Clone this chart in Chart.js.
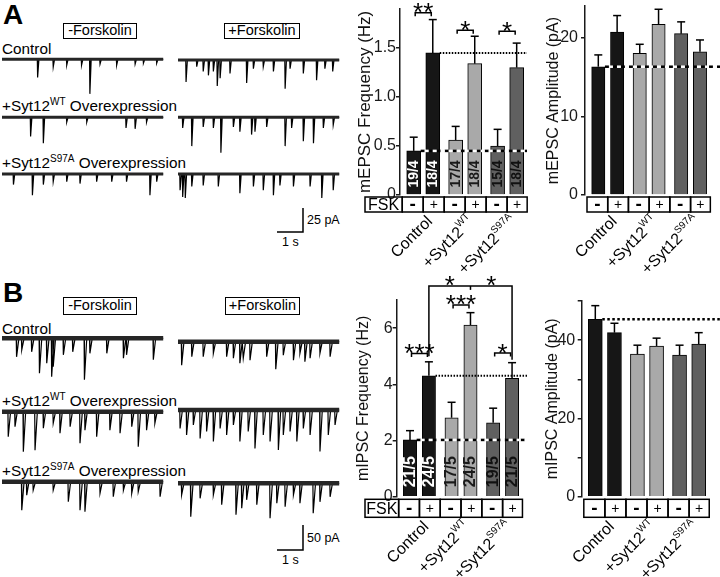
<!DOCTYPE html>
<html>
<head>
<meta charset="utf-8">
<script src="https://cdn.jsdelivr.net/npm/chart.js@4.4.1/dist/chart.umd.min.js"></script>
<style>
  body { margin: 0; background: #fff; width: 720px; height: 577px; position: relative; overflow: hidden;
         font-family: Arial, "Liberation Sans", sans-serif; color: #000; }
  canvas { position: absolute; }
  .lbl { position: absolute; font-size: 15.3px; line-height: 16px; white-space: nowrap; }
  .lbl sup { font-size: 10px; vertical-align: 6px; line-height: 0; }
  .box { position: absolute; border: 1.5px solid #000; box-sizing: border-box; font-size: 14.5px; text-align: center; white-space: nowrap; }
  .letter { position: absolute; font-size: 28px; line-height: 28px; font-weight: bold; }
  .small { position: absolute; font-size: 12.5px; line-height: 13px; white-space: nowrap; }
</style>
</head>
<body>

<div class="letter" style="left:3px;top:1px">A</div>
<div class="box" style="left:63px;top:23px;width:74px;height:16px;line-height:13px">-Forskolin</div>
<div class="box" style="left:224px;top:23px;width:76px;height:16px;line-height:13px">+Forskolin</div>
<div class="lbl" style="left:2px;top:41px">Control</div>
<div class="lbl" style="left:2px;top:98px">+Syt12<sup>WT</sup> Overexpression</div>
<div class="lbl" style="left:2px;top:155px">+Syt12<sup>S97A</sup> Overexpression</div>
<div class="small" style="left:307px;top:214px">25 pA</div>
<div class="small" style="left:282px;top:236px">1 s</div>

<div class="letter" style="left:3px;top:279px">B</div>
<div class="box" style="left:63px;top:297px;width:74px;height:18px;line-height:15px">-Forskolin</div>
<div class="box" style="left:225px;top:297px;width:75px;height:18px;line-height:15px">+Forskolin</div>
<div class="lbl" style="left:2px;top:321px">Control</div>
<div class="lbl" style="left:2px;top:393px">+Syt12<sup>WT</sup> Overexpression</div>
<div class="lbl" style="left:2px;top:463px">+Syt12<sup>S97A</sup> Overexpression</div>
<div class="small" style="left:307px;top:532px">50 pA</div>
<div class="small" style="left:282px;top:554px">1 s</div>

<canvas id="traceA"></canvas>
<canvas id="traceB"></canvas>
<canvas id="freqA"></canvas>
<canvas id="ampA"></canvas>
<canvas id="freqB"></canvas>
<canvas id="ampB"></canvas>

<script>
// ---- data ----
const groupNames = ['Control', '+Syt12', '+Syt12'];
const groupSup = ['', 'WT', 'S97A'];
const fskSigns = ['-', '+', '-', '+', '-', '+'];

const mepscFreq = [0.45, 1.45, 0.56, 1.34, 0.50, 1.30];
const mepscFreqSem = [0.14, 0.34, 0.14, 0.28, 0.17, 0.25];
const mepscN = ['19/4', '18/4', '17/4', '18/4', '15/4', '18/4'];
const mepscFreqTicks = [0, 0.5, 1.0, 1.5];
const mepscFreqTickLabels = ['0', '0.5', '1.0', '1.5'];

const mepscAmp = [16.3, 20.7, 18.0, 21.7, 20.5, 18.2];
const mepscAmpSem = [1.5, 2.1, 1.15, 1.9, 1.5, 1.5];
const mepscAmpTicks = [0, 10, 20];
const mepscAmpTickLabels = ['0', '10', '20'];

const mipscFreq = [2.02, 4.30, 2.81, 6.11, 2.63, 4.21];
const mipscFreqSem = [0.33, 0.50, 0.55, 0.44, 0.52, 0.56];
const mipscN = ['21/5', '24/5', '17/5', '24/5', '19/5', '21/5'];
const mipscFreqTicks = [0, 2, 4, 6];
const mipscFreqTickLabels = ['0', '2', '4', '6'];

const mipscAmp = [45.3, 41.9, 36.4, 38.5, 36.2, 39.0];
const mipscAmpSem = [3.5, 2.4, 2.3, 2.0, 2.5, 2.9];
const mipscAmpTicks = [0, 10, 20, 30, 40, 50];
const mipscAmpTickLabels = ['0', '', '20', '', '40', ''];

// significance: [bar a, bar b, bracket height (axis units), stars]
const mepscFreqSig = [[0, 1, 1.86, '**'], [2, 3, 1.68, '*'], [4, 5, 1.67, '*']];
const mipscFreqSig = [[0, 1, 5.10, '***'], [2, 3, 6.82, '***'], [4, 5, 5.11, '*']];
const mipscFreqBig = { from: 1, mid: 3, to: 5, y: 7.5, leftEnd: 5.0, midEnd: 7.36, rightEnd: 4.87, stars: ['*', '*'] };

// example traces: events as [time (s), amplitude (pA)]
const aCtrlOff = [[1.37,19],[1.97,8],[2.49,6],[3.06,6],[3.38,36],[3.77,5],[4.41,6],[5.12,5],[5.44,4],[5.95,4]];
const aCtrlOn = [[0.31,23],[0.72,7],[0.97,12],[1.17,16],[1.36,12],[1.51,27],[1.62,19],[2.0,14],[2.64,24],[2.9,9],[3.28,7],[3.67,12],[4.12,30],[4.31,9],[4.82,14],[5.33,21],[5.65,9],[5.95,12]];
const aWtOff = [[1.10,20],[1.59,27],[2.49,5],[3.26,5],[4.77,11],[5.12,12],[5.56,5]];
const aWtOn = [[0.18,11],[0.53,30],[0.97,10],[1.36,11],[1.65,37],[2.13,10],[2.38,15],[2.83,18],[2.96,15],[3.41,10],[4.12,30],[4.37,11],[4.82,25],[5.21,27],[5.59,11],[5.97,8]];
const aMutOff = [[0.44,11],[1.17,22],[1.59,11],[1.97,8],[2.49,8],[3.0,10],[3.64,8],[4.22,8],[4.79,8],[5.69,22],[5.95,8]];
const aMutOn = [[0.08,17],[0.18,24],[0.28,25],[0.53,13],[0.97,12],[1.55,13],[2.38,20],[2.9,13],[3.28,17],[3.67,22],[3.92,12],[4.44,13],[5.08,13],[5.53,25],[5.97,17]];
const bCtrlOff = [[0.56,37],[0.76,23],[1.14,27],[1.44,70],[1.72,50],[1.91,77],[1.97,57],[2.36,33],[2.72,27],[3.17,83],[3.38,30],[4.03,30],[4.67,40],[4.79,33],[5.82,43]];
const bCtrlOn = [[0.14,47],[0.53,30],[0.97,30],[1.36,23],[1.87,30],[2.13,33],[2.38,43],[2.51,33],[2.77,37],[3.41,30],[3.76,55],[4.05,27],[4.44,37],[4.69,23],[4.88,40],[5.08,33],[5.46,23],[5.85,30]];
const bWtOff = [[0.24,50],[0.5,30],[0.82,80],[1.27,77],[1.59,33],[1.97,23],[2.23,43],[2.62,30],[3.0,63],[3.19,37],[3.64,50],[4.15,37],[4.54,43],[4.99,30],[5.24,70],[5.56,37],[5.88,23]];
const bWtOn = [[0.08,37],[0.33,50],[0.59,30],[0.85,57],[1.1,43],[1.36,63],[1.62,37],[1.87,50],[2.13,30],[2.38,63],[2.7,43],[2.96,77],[3.28,50],[3.54,63],[3.86,80],[4.05,50],[4.31,43],[4.57,63],[4.82,37],[5.08,50],[5.46,83],[5.78,50],[6.04,30]];
const bMutOff = [[0.76,57],[0.95,27],[1.2,17],[1.97,17],[2.55,40],[3.0,57],[3.19,60],[3.77,23],[4.28,30],[4.67,17],[4.99,23],[5.24,20],[6.08,30]];
const bMutOn = [[0.14,23],[0.49,67],[0.85,30],[1.36,23],[1.68,43],[2.23,63],[2.45,50],[2.64,33],[3.03,43],[3.54,70],[3.8,40],[4.12,47],[4.44,23],[4.69,40],[5.2,60],[5.46,37],[5.85,27]];
const scaleBarSec = 1;
const scaleBarA = 25;
const scaleBarB = 50;

// ---- layout / style ----
const FONT = 'Arial, "Liberation Sans", sans-serif';
const BAR_POS = [0, 1, 2.2, 3.2, 4.4, 5.4];
const BOX_EDGES = [-0.6, 0.5, 1.6, 2.7, 3.8, 4.9, 5.95];
const BAR_COLORS = ['#161616', '#161616', '#a9a9a9', '#a9a9a9', '#606060', '#606060'];
const N_COLORS = ['#fff', '#fff', '#1a1a1a', '#1a1a1a', '#111', '#111'];
const PX_PER_S = 26;
const TRACE_DUR = 6.2;
const FSK_LEFT = 365;

Chart.defaults.font.family = FONT;
Chart.defaults.color = '#000';

function place(cv, L) {
    cv.width = L.width; cv.height = L.height;
    cv.style.left = L.left + 'px'; cv.style.top = L.top + 'px';
    cv.style.width = L.width + 'px'; cv.style.height = L.height + 'px';
}

function traceChart(id, L, traces) {
    const cv = document.getElementById(id);
    place(cv, L);
    const k = L.pAperPx;
    const ds = [];
    traces.forEach(tr => {
        const x0 = tr.x0 / PX_PER_S, y0 = -tr.base * k;
        ds.push({ data: [{ x: x0, y: y0 }, { x: x0 + TRACE_DUR, y: y0 }], borderWidth: L.band, borderColor: '#262626' });
        const pts = [{ x: x0, y: y0 }];
        tr.events.forEach(([t, a]) => {
            pts.push({ x: x0 + t - 0.012, y: y0 }, { x: x0 + t, y: y0 - a }, { x: x0 + t + L.decay, y: y0 });
        });
        pts.push({ x: x0 + TRACE_DUR, y: y0 });
        ds.push({ data: pts, borderWidth: 1.2, borderColor: '#000' });
    });
    // scale bar
    const sx = L.barX / PX_PER_S, sy = -L.barY * k;
    ds.push({ data: [{ x: sx - scaleBarSec, y: sy }, { x: sx, y: sy }, { x: sx, y: sy + L.barPA }], borderWidth: 1.5, borderColor: '#000' });

    new Chart(cv, {
        type: 'scatter',
        data: { datasets: ds.map(d => Object.assign({ showLine: true, pointRadius: 0, fill: false, tension: 0 }, d)) },
        options: {
            responsive: false, animation: false,
            layout: { padding: 0 },
            plugins: { legend: { display: false }, tooltip: { enabled: false } },
            scales: {
                x: { type: 'linear', display: false, min: 0, max: L.width / PX_PER_S },
                y: { type: 'linear', display: false, min: -L.height * k, max: 0 }
            }
        }
    });
}

function strokeLine(ctx, pts) {
    ctx.beginPath();
    pts.forEach((p, i) => i ? ctx.lineTo(p[0], p[1]) : ctx.moveTo(p[0], p[1]));
    ctx.stroke();
}

function drawStars(ctx, txt, x, y, size) {
    ctx.font = size + 'px ' + FONT;
    ctx.textAlign = 'center';
    ctx.textBaseline = 'alphabetic';
    ctx.fillStyle = '#000';
    ctx.fillText(txt, x, y - 2 + 0.40 * size);
}

function makeOverlay(L, cfg) {
    return {
        id: 'overlay',
        afterDatasetsDraw(chart) {
            const ctx = chart.ctx, xs = chart.scales.x, ys = chart.scales.y;
            const X = v => xs.getPixelForValue(v), Y = v => ys.getPixelForValue(v);
            const half = L.barW / 2;
            ctx.save();
            // n labels inside bars
            (cfg.nLabels || []).forEach((t, i) => {
                ctx.save();
                ctx.translate(X(BAR_POS[i]) + 0.5, Y(0) - L.nOffset);
                ctx.rotate(-Math.PI / 2);
                ctx.font = 'bold ' + L.nSize + 'px ' + FONT;
                ctx.fillStyle = N_COLORS[i];
                ctx.textAlign = 'center'; ctx.textBaseline = 'middle';
                ctx.fillText(t, 0, 0);
                ctx.restore();
            });
            // error bars (upper SEM)
            ctx.strokeStyle = '#000'; ctx.lineWidth = 1.5;
            cfg.values.forEach((v, i) => {
                const x = X(BAR_POS[i]), y0 = Y(v), y1 = Y(v + cfg.sem[i]);
                strokeLine(ctx, [[x, y0], [x, y1]]);
                strokeLine(ctx, [[x - 4, y1], [x + 4, y1]]);
            });
            // reference lines
            cfg.refs.forEach(r => {
                const y = Y(r.value), xa = X(BAR_POS[r.from]) + half, xb = L.refEnd - L.left;
                if (r.style === 'dotted') {
                    ctx.setLineDash(r.dash); ctx.lineWidth = r.width; ctx.strokeStyle = '#000';
                    strokeLine(ctx, [[xa, y], [xb, y]]);
                } else {
                    ctx.setLineDash([4, 4]); ctx.lineWidth = 2.5;
                    ctx.strokeStyle = '#000'; ctx.lineDashOffset = 0;
                    strokeLine(ctx, [[xa, y], [xb, y]]);
                    ctx.strokeStyle = '#fff'; ctx.lineDashOffset = 4;
                    strokeLine(ctx, [[xa, y], [xb, y]]);
                }
                ctx.setLineDash([]); ctx.lineDashOffset = 0;
            });
            // significance brackets
            ctx.strokeStyle = '#000'; ctx.lineWidth = 1.5;
            (cfg.sig || []).forEach(([a, b, yv, txt]) => {
                const xa = X(BAR_POS[a]) + 1.5, xb = X(BAR_POS[b]) - 1.5, y = Y(yv);
                strokeLine(ctx, [[xa, y + 3.5], [xa, y], [xb, y], [xb, y + 3.5]]);
                drawStars(ctx, txt, (xa + xb) / 2, y, L.starSize);
            });
            if (cfg.big) {
                const g = cfg.big, y = Y(g.y);
                const xl = X(BAR_POS[g.from]), xm = X(BAR_POS[g.mid]), xr = X(BAR_POS[g.to]);
                strokeLine(ctx, [[xl, Y(g.leftEnd)], [xl, y], [xr, y], [xr, Y(g.rightEnd)]]);
                strokeLine(ctx, [[xm, y], [xm, Y(g.midEnd)]]);
                drawStars(ctx, g.stars[0], (xl + xm) / 2, y, L.starSize);
                drawStars(ctx, g.stars[1], (xm + xr) / 2, y, L.starSize);
            }
            ctx.restore();
        },
        afterDraw(chart) {
            const ctx = chart.ctx, xs = chart.scales.x;
            const X = v => xs.getPixelForValue(v);
            const top = L.boxTop - L.top, h = L.boxH;
            const bx = BOX_EDGES.map(X);
            ctx.save();
            ctx.strokeStyle = '#000'; ctx.lineWidth = 1.5; ctx.fillStyle = '#000';
            ctx.textAlign = 'center'; ctx.textBaseline = 'middle';
            if (cfg.fsk) {
                const fl = FSK_LEFT - L.left;
                ctx.strokeRect(fl, top, bx[0] - fl, h);
                ctx.font = '16px ' + FONT;
                ctx.fillText('FSK', (fl + bx[0]) / 2, top + h / 2 + 1);
            }
            fskSigns.forEach((s, i) => {
                ctx.strokeRect(bx[i], top, bx[i + 1] - bx[i], h);
                ctx.font = s === '-' ? 'bold 19px ' + FONT : '14px ' + FONT;
                ctx.fillText(s, (bx[i] + bx[i + 1]) / 2, top + h / 2 + (s === '-' ? 0 : 1));
            });
            // rotated group labels
            groupNames.forEach((g, k) => {
                const cx = (X(BAR_POS[2 * k]) + X(BAR_POS[2 * k + 1])) / 2 + 7;
                const cy = top + h + 7;
                ctx.save();
                ctx.translate(cx, cy);
                ctx.rotate(-Math.PI / 4);
                ctx.textAlign = 'left'; ctx.textBaseline = 'middle';
                ctx.font = '10px ' + FONT;
                const wSup = groupSup[k] ? ctx.measureText(groupSup[k]).width : 0;
                ctx.font = '16px ' + FONT;
                const wMain = ctx.measureText(g).width;
                ctx.fillText(g, -(wMain + wSup), 0);
                if (groupSup[k]) {
                    ctx.font = '10px ' + FONT;
                    ctx.fillText(groupSup[k], -wSup, -6);
                }
                ctx.restore();
            });
            ctx.restore();
        }
    };
}

function barChart(id, L, cfg) {
    const cv = document.getElementById(id);
    place(cv, L);
    const xMin = (L.axisX - L.bar0X) / L.unitPx;
    const xMax = xMin + (L.chartRight - L.axisX) / L.unitPx;
    const topPx = L.zeroY - L.yMax * L.yPx;
    new Chart(cv, {
        type: 'bar',
        data: {
            datasets: [{
                data: cfg.values.map((v, i) => ({ x: BAR_POS[i], y: v })),
                backgroundColor: BAR_COLORS,
                borderColor: '#000',
                borderWidth: 1,
                barThickness: L.barW
            }]
        },
        options: {
            responsive: false, animation: false,
            layout: { padding: { left: 0, top: topPx - L.top, bottom: L.top + L.height - L.zeroY, right: L.left + L.width - L.chartRight } },
            plugins: { legend: { display: false }, tooltip: { enabled: false } },
            scales: {
                x: { type: 'linear', display: false, min: xMin, max: xMax, offset: false },
                y: {
                    min: 0, max: L.yMax,
                    afterBuildTicks: s => { s.ticks = cfg.ticks.map(v => ({ value: v })); },
                    ticks: {
                        callback: v => { const i = cfg.ticks.indexOf(v); return i < 0 ? '' : cfg.tickLabels[i]; },
                        font: { size: 16 }, color: '#1a1a1a', padding: L.tickPad
                    },
                    grid: { drawOnChartArea: false, tickLength: 4, color: '#1a1a1a', lineWidth: 1.5 },
                    border: { color: '#1a1a1a', width: 1.5 },
                    title: { display: true, text: cfg.title, font: { size: L.titleSize }, color: '#111', padding: { top: L.titlePad, bottom: 0 } },
                    afterFit: s => { s.width = L.axisX - L.left; s.paddingTop = 0; s.paddingBottom = 0; }
                }
            }
        },
        plugins: [makeOverlay(L, cfg)]
    });
}

// ---- traces ----
traceChart('traceA', { left: 0, top: 0, width: 350, height: 265, pAperPx: 25 / 24, band: 3, decay: 0.05, barX: 303, barY: 232, barPA: scaleBarA }, [
    { events: aCtrlOff, x0: 2, base: 59.3 }, { events: aCtrlOn, x0: 178, base: 60 },
    { events: aWtOff, x0: 2, base: 117.3 }, { events: aWtOn, x0: 178, base: 117.3 },
    { events: aMutOff, x0: 2, base: 174 }, { events: aMutOn, x0: 178, base: 174 }
]);
traceChart('traceB', { left: 0, top: 270, width: 350, height: 307, pAperPx: 2, band: 4.5, decay: 0.09, barX: 303, barY: 280, barPA: scaleBarB }, [
    { events: bCtrlOff, x0: 2, base: 68.3 }, { events: bCtrlOn, x0: 178, base: 71.7 },
    { events: bWtOff, x0: 2, base: 141.7 }, { events: bWtOn, x0: 178, base: 140 },
    { events: bMutOff, x0: 2, base: 211.7 }, { events: bMutOn, x0: 178, base: 213.3 }
]);

// ---- bar charts ----
barChart('freqA', {
    left: 350, top: -20, width: 180, height: 315, axisX: 400, zeroY: 195, yMax: 1.9, yPx: 98,
    bar0X: 413.7, unitPx: 19.07, chartRight: 528, barW: 14, tickPad: 0, titleSize: 17, titlePad: 4.8,
    boxTop: 197, boxH: 15, refEnd: 527, nSize: 14, nOffset: 21, starSize: 26
}, {
    values: mepscFreq, sem: mepscFreqSem, nLabels: mepscN, fsk: true,
    ticks: mepscFreqTicks, tickLabels: mepscFreqTickLabels, title: 'mEPSC Frequency (Hz)',
    refs: [{ value: mepscFreq[1], from: 1, style: 'dotted', dash: [1.5, 1.5], width: 2 },
           { value: mepscFreq[0], from: 0, style: 'dashed' }],
    sig: mepscFreqSig
});

barChart('ampA', {
    left: 530, top: -20, width: 190, height: 315, axisX: 585, zeroY: 195, yMax: 24, yPx: 7.87,
    bar0X: 598.3, unitPx: 18.83, chartRight: 711, barW: 13.3, tickPad: 3, titleSize: 16, titlePad: 13.9,
    boxTop: 197, boxH: 15, refEnd: 720, nSize: 14, nOffset: 21, starSize: 26
}, {
    values: mepscAmp, sem: mepscAmpSem, fsk: false,
    ticks: mepscAmpTicks, tickLabels: mepscAmpTickLabels, title: 'mEPSC Amplitude (pA)',
    refs: [{ value: mepscAmp[0], from: 0, style: 'dashed' }]
});

barChart('freqB', {
    left: 350, top: 262, width: 180, height: 315, axisX: 396.7, zeroY: 496.7, yMax: 7, yPx: 28.1,
    bar0X: 410, unitPx: 18.9, chartRight: 524, barW: 13.3, tickPad: 0, titleSize: 16, titlePad: 3.9,
    boxTop: 499.3, boxH: 18, refEnd: 527, nSize: 16, nOffset: 25, starSize: 26
}, {
    values: mipscFreq, sem: mipscFreqSem, nLabels: mipscN, fsk: true,
    ticks: mipscFreqTicks, tickLabels: mipscFreqTickLabels, title: 'mIPSC Frequency (Hz)',
    refs: [{ value: mipscFreq[1], from: 1, style: 'dotted', dash: [1.5, 1.5], width: 2 },
           { value: mipscFreq[0], from: 0, style: 'dashed' }],
    sig: mipscFreqSig, big: mipscFreqBig
});

barChart('ampB', {
    left: 530, top: 262, width: 190, height: 315, axisX: 581.7, zeroY: 496.7, yMax: 50, yPx: 3.915,
    bar0X: 595.3, unitPx: 19.15, chartRight: 710, barW: 14, tickPad: 2.5, titleSize: 16, titlePad: 13,
    boxTop: 499.3, boxH: 18, refEnd: 720, nSize: 16, nOffset: 25, starSize: 26
}, {
    values: mipscAmp, sem: mipscAmpSem, fsk: false,
    ticks: mipscAmpTicks, tickLabels: mipscAmpTickLabels, title: 'mIPSC Amplitude (pA)',
    refs: [{ value: mipscAmp[0], from: 0, style: 'dotted', dash: [2.5, 2.5], width: 2.5 }]
});
</script>
</body>
</html>
